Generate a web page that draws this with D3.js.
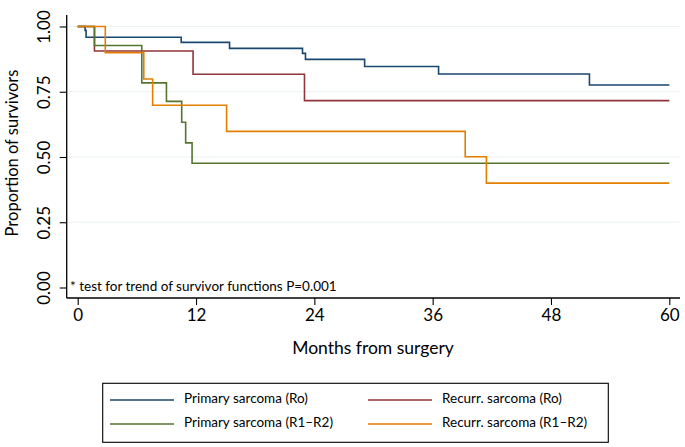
<!DOCTYPE html>
<html>
<head>
<meta charset="utf-8">
<script src="https://cdn.jsdelivr.net/npm/d3@7"></script>
<style>
  body { margin: 0; background: #fff; }
  svg text { font-family: Lato, "Open Sans", sans-serif; fill: #000; }
</style>
</head>
<body>
<svg id="chart" width="685" height="447"></svg>
<script>
// Kaplan-Meier steps: [month, proportion surviving]
let primaryR0 = [[0, 1], [0.75, 0.985], [0.85, 0.959], [10.5, 0.939], [15.4, 0.916], [22.8, 0.897], [23.1, 0.874], [29.1, 0.847], [36.6, 0.818], [51.9, 0.776], [60, 0.776]];
let recurrR0 = [[0, 1], [1.7, 0.906], [11.7, 0.817], [23.0, 0.716], [60, 0.716]];
let primaryR1R2 = [[0, 1], [1.7, 0.927], [6.5, 0.784], [9.0, 0.713], [10.55, 0.633], [10.95, 0.554], [11.6, 0.476], [60, 0.476]];
let recurrR1R2 = [[0, 1], [2.8, 0.90], [6.7, 0.799], [7.6, 0.698], [15.1, 0.598], [39.3, 0.501], [41.45, 0.40], [60, 0.40]];

let seriesNames = ["Primary sarcoma (Ro)", "Recurr. sarcoma (Ro)", "Primary sarcoma (R1\u2013R2)", "Recurr. sarcoma (R1\u2013R2)"];
let seriesColors = ["#1a476f", "#90353b", "#55752f", "#e37e00"];
let xTicks = [0, 12, 24, 36, 48, 60];
let yTicks = [0, 0.25, 0.5, 0.75, 1];
let gridTicks = [0.25, 0.5, 0.75, 1];

let svg = d3.select("#chart");

let x = d3.scaleLinear().domain([0, 60]).range([77.7, 669.3]);
let y = d3.scaleLinear().domain([0, 1]).range([287.5, 26.5]);

let axisX = 298;
let axisY = 66.7;

// gridlines
svg.selectAll("line.grid")
  .data(gridTicks)
  .enter().append("line")
    .attr("class", "grid")
    .attr("x1", axisY)
    .attr("x2", 680)
    .attr("y1", function(d) { return y(d); })
    .attr("y2", function(d) { return y(d); })
    .attr("stroke", "#eaf2f3")
    .attr("stroke-width", 1.2);

// x axis
let gx = svg.append("g")
  .attr("transform", "translate(0," + axisX + ")")
  .call(d3.axisBottom(x).tickValues(xTicks).tickSize(7).tickPadding(4).tickFormat(d3.format("d")));
gx.select(".domain").remove();
gx.selectAll("line").attr("stroke", "#000").attr("stroke-width", 1.1);
gx.selectAll("text").style("font-size", "17px").attr("y", 11);
svg.append("line")
  .attr("x1", axisY).attr("x2", 680)
  .attr("y1", axisX).attr("y2", axisX)
  .attr("stroke", "#000").attr("stroke-width", 1.3);

// y axis
let gy = svg.append("g")
  .attr("transform", "translate(" + axisY + ",0)")
  .call(d3.axisLeft(y).tickValues(yTicks).tickSize(7).tickFormat(d3.format(".2f")));
gy.select(".domain").remove();
gy.selectAll("line").attr("stroke", "#000").attr("stroke-width", 1.1);
gy.selectAll(".tick text")
  .style("font-size", "17px")
  .attr("x", 0).attr("y", 0).attr("dy", null)
  .attr("text-anchor", "middle")
  .attr("dominant-baseline", "middle")
  .attr("transform", "translate(-21,0) rotate(-90)");
svg.append("line")
  .attr("x1", axisY).attr("x2", axisY)
  .attr("y1", 15).attr("y2", axisX)
  .attr("stroke", "#000").attr("stroke-width", 1.3);

// axis titles
svg.append("text")
  .attr("x", 373)
  .attr("y", 354)
  .attr("text-anchor", "middle")
  .style("font-size", "17.5px")
  .text("Months from surgery");

svg.append("text")
  .attr("transform", "translate(14,153) rotate(-90)")
  .attr("text-anchor", "middle")
  .attr("dominant-baseline", "middle")
  .style("font-size", "16.5px")
  .text("Proportion of survivors");

// note
svg.append("text")
  .attr("x", 70)
  .attr("y", 291)
  .style("font-size", "13.5px")
  .text("* test for trend of survivor functions P=0.001");

// curves
let line = d3.line()
  .x(function(d) { return x(d[0]); })
  .y(function(d) { return y(d[1]); })
  .curve(d3.curveStepAfter);

let allSeries = [primaryR0, recurrR0, primaryR1R2, recurrR1R2];
svg.selectAll("path.km")
  .data(allSeries)
  .enter().append("path")
    .attr("class", "km")
    .attr("d", line)
    .attr("fill", "none")
    .attr("stroke", function(d, i) { return seriesColors[i]; })
    .attr("stroke-width", 1.6);

// legend
let legend = svg.append("g");
legend.append("rect")
  .attr("x", 102.7).attr("y", 383.3)
  .attr("width", 505.6).attr("height", 59)
  .attr("fill", "#fff")
  .attr("stroke", "#000").attr("stroke-width", 1.1);

let legPos = [[110, 400], [368, 400], [110, 424], [368, 424]];
let items = legend.selectAll("g.item")
  .data(seriesNames)
  .enter().append("g")
    .attr("class", "item")
    .attr("transform", function(d, i) { return "translate(" + legPos[i][0] + "," + legPos[i][1] + ")"; });
items.append("line")
  .attr("x1", 0).attr("x2", 64)
  .attr("y1", 0).attr("y2", 0)
  .attr("stroke", function(d, i) { return seriesColors[i]; })
  .attr("stroke-width", 1.6);
items.append("text")
  .attr("x", 74)
  .attr("y", 0)
  .attr("dominant-baseline", "middle")
  .style("font-size", "13.5px")
  .text(function(d) { return d; });
</script>
</body>
</html>
